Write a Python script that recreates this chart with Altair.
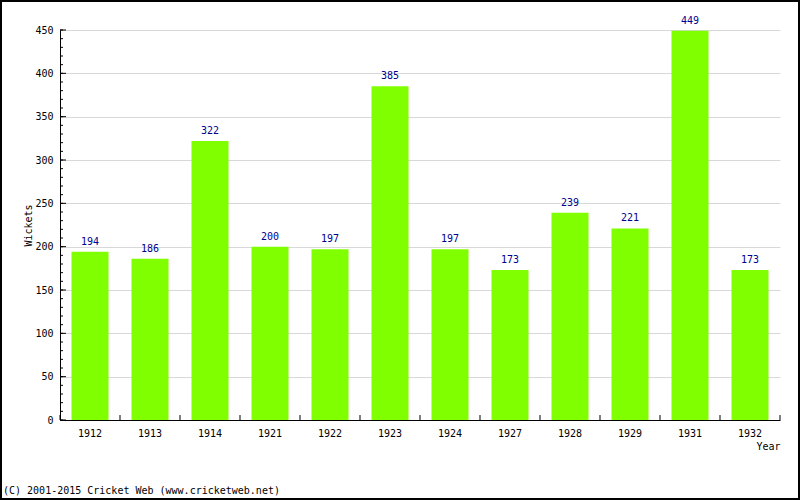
import altair as alt
import pandas as pd

years = ["1912", "1913", "1914", "1921", "1922", "1923", "1924", "1927", "1928", "1929", "1931", "1932"]
wickets = [194, 186, 322, 200, 197, 385, 197, 173, 239, 221, 449, 173]
major_ticks = list(range(0, 451, 50))
minor_ticks = list(range(0, 451, 10))
band_edges = list(range(0, len(years) + 1))
footer = "(C) 2001-2015 Cricket Web (www.cricketweb.net)"

FONT = "DejaVu Sans Mono"
W, H = 720, 390

df = pd.DataFrame({"Year": years, "Wickets": wickets})
yscale = alt.Scale(domain=[0, 450], nice=False)
xscale = alt.Scale(paddingInner=0.383, paddingOuter=0.1915)

bars = alt.Chart(df).mark_bar(color="#80ff00").encode(
    x=alt.X("Year:N", sort=years, scale=xscale,
            axis=alt.Axis(title="Year", titleAnchor="end", titleAlign="right", titleFont=FONT,
                          titleFontSize=10, titleFontWeight="normal", titleColor="black",
                          titlePadding=3, ticks=False, labelAngle=0, labelPadding=8,
                          labelFont=FONT, labelFontSize=10, labelColor="black",
                          domainColor="black", grid=False)),
    y=alt.Y("Wickets:Q", scale=yscale,
            axis=alt.Axis(values=major_ticks, title="Wickets", titleFont=FONT, titleFontSize=10,
                          titleFontWeight="normal", titleColor="black", titlePadding=1,
                          ticks=False, labelPadding=7, labelFont=FONT, labelFontSize=10,
                          labelColor="black", domainColor="black", grid=True,
                          gridColor="#d8d8d8")),
)

labels = alt.Chart(df).mark_text(baseline="bottom", dy=-5, font=FONT, fontSize=10,
                                 color="#000090").encode(
    x=alt.X("Year:N", sort=years, scale=xscale, axis=None),
    y=alt.Y("Wickets:Q", scale=yscale),
    text="Wickets:Q",
)

minor = alt.Chart(pd.DataFrame({"Wickets": minor_ticks})).mark_rule(color="black").encode(
    y=alt.Y("Wickets:Q", scale=yscale), x=alt.value(0), x2=alt.value(3))
major = alt.Chart(pd.DataFrame({"Wickets": major_ticks})).mark_rule(color="black").encode(
    y=alt.Y("Wickets:Q", scale=yscale), x=alt.value(0), x2=alt.value(6))

xticks = alt.Chart(pd.DataFrame({"edge": band_edges})).mark_rule(color="black").encode(
    x=alt.X("edge:Q", scale=alt.Scale(domain=[0, len(years)], nice=False, zero=False), axis=None),
    y=alt.value(H - 5), y2=alt.value(H))

one = pd.DataFrame({"t": [footer]})
border = alt.Chart(one).mark_rect(filled=False, stroke="black", strokeWidth=2).encode(
    x=alt.value(-59), x2=alt.value(739), y=alt.value(-29), y2=alt.value(469))
foot = alt.Chart(one).mark_text(align="left", baseline="middle", font=FONT, fontSize=10,
                                color="black").encode(
    x=alt.value(-57), y=alt.value(461), text="t:N")

chart = alt.layer(bars, labels, minor, major, xticks, border, foot).resolve_scale(
    x="independent"
).properties(
    width=W, height=H,
    autosize=alt.AutoSizeParams(type="none"),
    padding={"left": 60, "top": 30, "right": 20, "bottom": 80},
).configure_view(stroke=None)

chart.save("out.html", embed_options={"renderer": "svg", "actions": False})
